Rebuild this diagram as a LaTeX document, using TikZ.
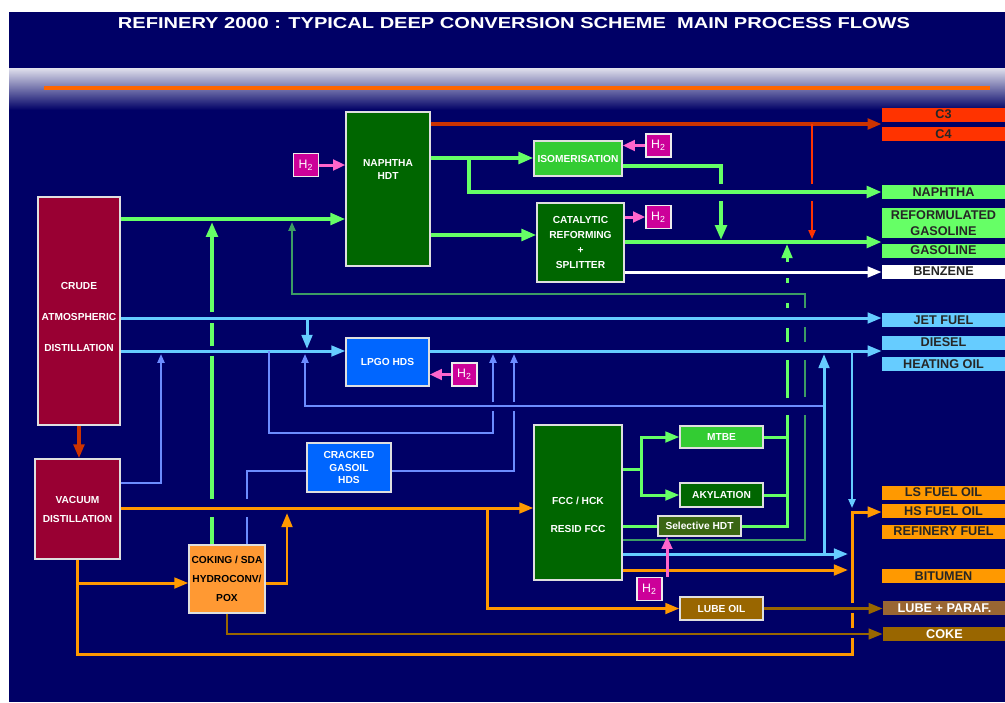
\documentclass[tikz,border=0pt]{standalone}
\usepackage{fontspec}
\setmainfont{Liberation Sans}
\usepackage{graphicx}
\usepackage{tikz}
\usetikzlibrary{arrows.meta}
\usepackage{xcolor}

\newlength{\pxu}
\setlength{\pxu}{0.2mm}
\newcommand{\ufont}[1]{\bfseries\fontsize{5.8}{#1}\selectfont}

\definecolor{bgnavy}{HTML}{000066}
\definecolor{crudered}{HTML}{990033}
\definecolor{dkgreen}{HTML}{006600}
\definecolor{boxgreen}{HTML}{33CC33}
\definecolor{olivegreen}{HTML}{3A6614}
\definecolor{boxblue}{HTML}{0066FF}
\definecolor{h2pink}{HTML}{CC0099}
\definecolor{cokeorange}{HTML}{FF9933}
\definecolor{lubebrown}{HTML}{996600}
\definecolor{prodred}{HTML}{FF3300}
\definecolor{prodgreen}{HTML}{66FF66}
\definecolor{prodblue}{HTML}{66CCFF}
\definecolor{prodorange}{HTML}{FF9900}
\definecolor{prodbrown}{HTML}{996633}
\definecolor{flowgreen}{HTML}{66FF66}
\definecolor{flowblue}{HTML}{66CCFF}
\definecolor{thinblue}{HTML}{6C8CFF}
\definecolor{flowteal}{HTML}{3C9C64}
\definecolor{floworange}{HTML}{FF9900}
\definecolor{flowbrown}{HTML}{996600}
\definecolor{flowred}{HTML}{CC3300}
\definecolor{flowpink}{HTML}{FF66CC}
\definecolor{headorange}{HTML}{FF6600}

\tikzset{
    plant/.style={draw=white!75!gray, line width=0.7pt, inner sep=0pt, text=white, align=center, font=\ufont{7}},
    ptxt/.style={inner sep=0pt, text=white, align=center},
    htwo/.style={draw=white!85!gray, line width=0.8pt, fill=h2pink, text=white, inner sep=0pt,
        minimum width=25\pxu, minimum height=23\pxu, font=\fontsize{7}{8}\selectfont},
    prod/.style={inner sep=0pt, minimum width=123\pxu, minimum height=14\pxu, align=center,
        text=black!85, font=\bfseries\fontsize{7.2}{9}\selectfont},
    gflow/.style={draw=flowgreen, line width=2.2pt, >={Triangle[length=8.5pt,width=6.5pt]}},
    gthin/.style={draw=flowgreen, line width=1.7pt, >={Triangle[length=8pt,width=6pt]}},
    bflow/.style={draw=flowblue, line width=1.7pt, >={Triangle[length=8pt,width=6pt]}},
    tflow/.style={draw=#1, line width=1.1pt, >={Triangle[length=5pt,width=4pt]}},
    tflow/.default=thinblue,
    sflow/.style={draw=flowteal, line width=1.1pt, >={Triangle[length=5pt,width=4pt]}},
    oflow/.style={draw=floworange, line width=1.7pt, >={Triangle[length=8pt,width=6pt]}},
    brflow/.style={draw=flowbrown, line width=1.5pt, >={Triangle[length=8pt,width=6pt]}},
    rflow/.style={draw=flowred, line width=2pt, >={Triangle[length=8pt,width=6pt]}},
    rthin/.style={draw=prodred, line width=0.9pt, >={Triangle[length=5pt,width=4pt]}},
    hflow/.style={draw=flowpink, line width=1.7pt, >={Triangle[length=7pt,width=6pt]}},
    wflow/.style={draw=white, line width=1.7pt, >={Triangle[length=8pt,width=6pt]}}
}

\begin{document}
\begin{tikzpicture}[x=0.2mm, y=-0.2mm]
    % Page and title band
    \useasboundingbox (0,0) rectangle (1005,702);
    \fill[white] (0,0) rectangle (1005,702);
    \fill[bgnavy] (9,12) rectangle (1005,702);
    \shade[top color=white!88!bgnavy, middle color=white!60!bgnavy, bottom color=bgnavy] (9,68) rectangle (1005,110);
    \draw[headorange, line width=2.2pt] (44,88) -- (990,88);
    \node[text=white, inner sep=0pt] (title) at (514,23.5)
        {\resizebox{792\pxu}{11\pxu}{\bfseries REFINERY 2000 : TYPICAL DEEP CONVERSION SCHEME\ \ MAIN PROCESS FLOWS}};

    % Process units
    \node[plant, fill=crudered, minimum width=82\pxu, minimum height=228\pxu] (crude) at (79,311) {};
    \node[ptxt, font=\ufont{17.6}] (crude-txt) at (79,317) {CRUDE\\ATMOSPHERIC\\DISTILLATION};
    \node[plant, fill=crudered, minimum width=85\pxu, minimum height=100\pxu, font=\ufont{10.8}] (vacuum) at (77.5,509) {VACUUM\\DISTILLATION};
    \node[plant, fill=dkgreen, minimum width=84\pxu, minimum height=154\pxu] (nhdt) at (388,189) {};
    \node[ptxt, font=\ufont{7.4}] (nhdt-txt) at (388,169.5) {NAPHTHA\\HDT};
    \node[plant, fill=boxgreen, minimum width=88\pxu, minimum height=35\pxu] (isom) at (578,158.5) {ISOMERISATION};
    \node[plant, fill=dkgreen, minimum width=87\pxu, minimum height=79\pxu, font=\ufont{8.7}] (catref) at (580.5,242.5) {CATALYTIC\\REFORMING\\+\\SPLITTER};
    \node[plant, fill=boxblue, minimum width=83\pxu, minimum height=48\pxu] (lpgo) at (387.5,362) {LPGO HDS};
    \node[plant, fill=boxblue, minimum width=84\pxu, minimum height=49\pxu, font=\ufont{7.1}] (cgo) at (349,467.5) {CRACKED\\GASOIL\\HDS};
    \node[plant, fill=dkgreen, minimum width=88\pxu, minimum height=155\pxu] (fcc) at (578,502.5) {};
    \node[ptxt, font=\ufont{15.9}] (fcc-txt) at (578,515) {FCC / HCK\\RESID FCC};
    \node[plant, fill=boxgreen, minimum width=83\pxu, minimum height=22\pxu] (mtbe) at (721.5,437) {MTBE};
    \node[plant, fill=dkgreen, minimum width=83\pxu, minimum height=24\pxu] (akyl) at (721.5,495) {AKYLATION};
    \node[plant, fill=olivegreen, minimum width=83\pxu, minimum height=20\pxu] (selhdt) at (699.5,526) {Selective HDT};
    \node[plant, fill=cokeorange, text=black, minimum width=76\pxu, minimum height=68\pxu, font=\ufont{11}] (coking) at (227,579) {COKING / SDA\\HYDROCONV/\\POX};
    \node[plant, fill=lubebrown, minimum width=83\pxu, minimum height=23\pxu] (lubeoil) at (721.5,608.5) {LUBE OIL};

    % Hydrogen feeds
    \node[htwo] (h2a) at (306,165) {H\textsubscript{2}};
    \node[htwo] (h2b) at (658.5,145.5) {H\textsubscript{2}};
    \node[htwo] (h2c) at (658.5,217) {H\textsubscript{2}};
    \node[htwo] (h2d) at (464.5,374.5) {H\textsubscript{2}};
    \node[htwo] (h2e) at (649.5,589) {H\textsubscript{2}};

    % Products
    \node[prod, fill=prodred] (c3) at (943.5,114.5) {C3};
    \node[prod, fill=prodred] (c4) at (943.5,134) {C4};
    \node[prod, fill=prodgreen] (naphtha) at (943.5,192) {NAPHTHA};
    \node[prod, fill=prodgreen, minimum height=30\pxu] (refgas) at (943.5,223) {REFORMULATED\\GASOLINE};
    \node[prod, fill=prodgreen] (gasoline) at (943.5,250.5) {GASOLINE};
    \node[prod, fill=white] (benzene) at (943.5,271.5) {BENZENE};
    \node[prod, fill=prodblue] (jet) at (943.5,320) {JET FUEL};
    \node[prod, fill=prodblue] (diesel) at (943.5,342.5) {DIESEL};
    \node[prod, fill=prodblue] (heating) at (943.5,364) {HEATING OIL};
    \node[prod, fill=prodorange] (lsfo) at (943.5,492.5) {LS FUEL OIL};
    \node[prod, fill=prodorange] (hsfo) at (943.5,511) {HS FUEL OIL};
    \node[prod, fill=prodorange] (reffuel) at (943.5,531.5) {REFINERY FUEL};
    \node[prod, fill=prodorange] (bitumen) at (943.5,576) {BITUMEN};
    \node[prod, fill=prodbrown, text=white] (lubeparaf) at (944.5,608) {LUBE + PARAF.};
    \node[prod, fill=lubebrown, text=white] (coke) at (944.5,634) {COKE};

    % Light ends and naphtha
    \draw[rflow, ->] (nhdt.east |- 0,124) -- (c3.west |- 0,124);
    \draw[rthin, ->] (812,124) -- (812,184) (812,201) -- (812,239);
    \draw[hflow, ->] (h2a.east) -- (nhdt.west |- h2a.east);
    \draw[gflow, ->] (crude.east |- 0,219) -- (nhdt.west |- 0,219);
    \draw[gflow, ->] (nhdt.east |- 0,158) -- (isom.west |- 0,158);
    \draw[gflow, ->] (469,158) |- (naphtha.west);
    \draw[hflow, ->] (h2b.west) -- (isom.east |- h2b.west);
    \draw[gflow, ->] (isom.east |- 0,166) -- (721,166) -- (721,184) (721,201) -- (721,240);
    \draw[gflow, ->] (nhdt.east |- 0,235) -- (catref.west |- 0,235);
    \draw[hflow, ->] (catref.east |- h2c.west) -- (h2c.west);
    \draw[gflow, ->] (catref.east |- 0,242) -- (gasoline.west |- 0,242);
    \draw[wflow, ->] (catref.east |- 0,272) -- (benzene.west |- 0,272);

    % Middle distillates
    \draw[bflow, ->] (crude.east |- 0,318) -- (jet.west |- 0,318);
    \draw[bflow, ->] (crude.east |- 0,351) -- (lpgo.west |- 0,351);
    \draw[bflow, ->] (307,318) -- (307,349);
    \draw[bflow, ->] (lpgo.east |- 0,351) -- (diesel.west |- 0,351);
    \draw[hflow, ->] (h2d.west) -- (lpgo.east |- h2d.west);
    \draw[tflow, ->] (vacuum.east |- 0,483) -| (161,354);
    \draw[tflow, ->] (269,351) -- (269,433) -- (493,433) -- (493,411) (493,402) -- (493,354);
    \draw[tflow, ->] (cgo.east |- 0,471) -- (514,471) -- (514,411) (514,402) -- (514,354);
    \draw[tflow, ->] (824,406) -- (305,406) -- (305,354);
    \draw[tflow] (coking.north -| 247,0) -- (247,517) (247,499) -- (247,471) -- (cgo.west |- 0,471);
    \draw[tflow=flowblue, ->] (852,351) -- (852,508);

    % Recycles to naphtha
    \draw[gflow, ->] (coking.north -| 212,0) -- (212,517) (212,499) -- (212,356) (212,346) -- (212,323) (212,312) -- (212,222);
    \draw[sflow, ->] (fcc.east |- 0,540) -- (805,540) -- (805,415) (805,397) -- (805,360) (805,342) -- (805,327) (805,308) -- (805,294) -- (292,294) -- (292,222);

    % Conversion products
    \draw[gthin] (fcc.east |- 0,469) -- (641,469);
    \draw[gthin, ->] (641,469) |- (mtbe.west);
    \draw[gthin, ->] (641,469) |- (akyl.west);
    \draw[gthin] (fcc.east |- selhdt.west) -- (selhdt.west);
    \draw[gthin] (mtbe.east) -- (787,437);
    \draw[gthin] (akyl.east) -- (787,495);
    \draw[gthin, ->] (selhdt.east) -- (787,526) -- (787,415) (787,398) -- (787,360) (787,342) -- (787,328) (787,308) -- (787,303) (787,283) -- (787,278) (787,262) -- (787,244);
    \draw[bflow, ->] (fcc.east |- 0,554) -- (848,554);
    \draw[bflow, ->] (824,554) -- (824,354);
    \draw[oflow, ->] (fcc.east |- 0,570) -- (848,570);

    % Vacuum residue
    \draw[rflow, line width=2.2pt, ->] (crude.south) -- (crude.south |- vacuum.north);
    \draw[oflow, ->] (vacuum.east |- 0,508) -- (fcc.west |- 0,508);
    \draw[oflow, ->] (77.5,583) -- (coking.west |- 0,583);
    \draw[oflow, ->] (vacuum.south) -- (77.5,654) -- (852,654) -- (852,638) (852,628) -- (852,613) (852,603) -- (852,512) -- (hsfo.west |- 0,512);
    \draw[oflow, ->] (coking.east |- 0,583) -| (287,513);
    \draw[oflow, ->] (487,508) |- (lubeoil.west);
    \draw[brflow, ->] (lubeoil.east) -- (lubeparaf.west |- lubeoil.east);
    \draw[brflow, ->] (coking.south) |- (coke.west);
    \draw[hflow, ->] (h2e.north east -| 667,0) -- (selhdt.south -| 667,0);
\end{tikzpicture}
\end{document}
